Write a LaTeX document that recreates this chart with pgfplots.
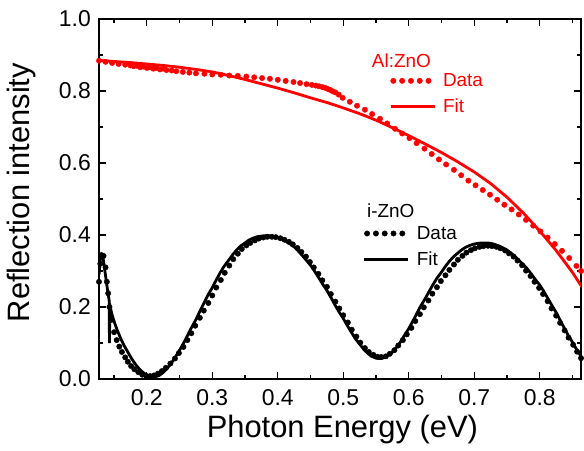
\documentclass[border=0pt]{standalone}
\usepackage{pgfplots}
\pgfplotsset{compat=1.18}
\usepackage{fontspec}
\setmainfont{Liberation Sans}
\definecolor{myred}{RGB}{255,0,0}

\pgfplotstableread{
x y
0.127 0.884
0.137 0.881
0.147 0.878
0.157 0.875
0.167 0.873
0.175 0.871
0.180 0.869
0.185 0.870
0.190 0.866
0.195 0.868
0.200 0.864
0.205 0.866
0.210 0.862
0.215 0.864
0.220 0.860
0.225 0.862
0.230 0.858
0.238 0.857
0.245 0.855
0.255 0.853
0.265 0.851
0.275 0.849
0.288 0.848
0.300 0.846
0.313 0.845
0.326 0.843
0.339 0.842
0.352 0.840
0.364 0.838
0.376 0.836
0.388 0.834
0.400 0.831
0.412 0.828
0.424 0.825
0.434 0.822
0.444 0.819
0.452 0.817
0.458 0.815
0.463 0.813
0.468 0.811
0.472 0.809
0.476 0.806
0.480 0.803
0.484 0.799
0.488 0.796
0.493 0.790
0.499 0.781
0.510 0.770
0.521 0.759
0.533 0.748
0.544 0.736
0.556 0.723
0.567 0.710
0.579 0.695
0.590 0.682
0.601 0.669
0.612 0.655
0.624 0.640
0.635 0.625
0.646 0.610
0.657 0.596
0.669 0.581
0.680 0.566
0.691 0.551
0.702 0.538
0.713 0.525
0.724 0.512
0.735 0.498
0.746 0.484
0.757 0.471
0.768 0.457
0.779 0.442
0.790 0.426
0.801 0.410
0.812 0.393
0.823 0.375
0.834 0.356
0.845 0.336
0.856 0.314
0.863 0.300
}\alznodata

\pgfplotstableread{
x y
0.127 0.885
0.150 0.882
0.175 0.879
0.200 0.875
0.225 0.871
0.250 0.866
0.275 0.860
0.300 0.853
0.325 0.843
0.350 0.832
0.375 0.820
0.400 0.808
0.425 0.795
0.450 0.781
0.475 0.768
0.500 0.753
0.525 0.737
0.550 0.719
0.575 0.698
0.600 0.676
0.625 0.653
0.650 0.629
0.675 0.603
0.700 0.575
0.725 0.543
0.750 0.505
0.775 0.461
0.800 0.411
0.825 0.357
0.850 0.296
0.870 0.240
}\alznofit

\pgfplotstableread{
x y
0.127 0.270
0.129 0.320
0.131 0.344
0.134 0.342
0.137 0.310
0.139 0.270
0.141 0.238
0.143 0.200
0.146 0.164
0.150 0.130
0.154 0.108
0.158 0.090
0.162 0.075
0.167 0.060
0.171 0.048
0.176 0.036
0.181 0.027
0.187 0.019
0.193 0.012
0.199 0.009
0.205 0.008
0.211 0.010
0.217 0.015
0.223 0.022
0.229 0.031
0.236 0.043
0.243 0.057
0.249 0.072
0.256 0.089
0.262 0.108
0.268 0.127
0.274 0.148
0.281 0.170
0.287 0.190
0.294 0.211
0.300 0.232
0.306 0.254
0.313 0.275
0.319 0.295
0.326 0.315
0.332 0.333
0.339 0.348
0.345 0.361
0.352 0.371
0.358 0.378
0.365 0.385
0.371 0.390
0.378 0.393
0.384 0.395
0.391 0.395
0.397 0.394
0.404 0.391
0.410 0.387
0.417 0.381
0.423 0.374
0.430 0.364
0.436 0.353
0.443 0.340
0.449 0.325
0.455 0.310
0.462 0.292
0.468 0.274
0.475 0.256
0.481 0.236
0.488 0.215
0.494 0.196
0.500 0.177
0.507 0.157
0.513 0.137
0.520 0.118
0.526 0.101
0.533 0.086
0.539 0.075
0.546 0.067
0.552 0.062
0.558 0.061
0.565 0.063
0.571 0.070
0.578 0.080
0.584 0.093
0.591 0.108
0.597 0.124
0.604 0.142
0.610 0.161
0.617 0.180
0.623 0.199
0.630 0.218
0.636 0.237
0.643 0.255
0.649 0.272
0.656 0.288
0.662 0.303
0.669 0.318
0.675 0.331
0.682 0.342
0.688 0.351
0.695 0.358
0.701 0.363
0.708 0.367
0.714 0.369
0.721 0.370
0.727 0.369
0.734 0.367
0.740 0.363
0.747 0.357
0.753 0.349
0.760 0.340
0.766 0.329
0.773 0.316
0.779 0.301
0.786 0.286
0.792 0.270
0.799 0.253
0.805 0.236
0.812 0.216
0.818 0.196
0.825 0.176
0.831 0.156
0.838 0.135
0.844 0.115
0.851 0.095
0.857 0.076
0.863 0.058
}\iznodata

\pgfplotstableread{
x y
0.127 0.290
0.129 0.330
0.131 0.345
0.133 0.340
0.136 0.300
0.139 0.260
0.1425 0.218
0.1430 0.100
0.1435 0.205
0.147 0.178
0.151 0.155
0.155 0.135
0.160 0.113
0.165 0.094
0.171 0.075
0.177 0.056
0.183 0.040
0.189 0.027
0.195 0.017
0.201 0.010
0.207 0.006
0.213 0.006
0.219 0.010
0.225 0.018
0.231 0.029
0.237 0.043
0.243 0.059
0.250 0.080
0.256 0.099
0.262 0.120
0.268 0.142
0.275 0.165
0.281 0.188
0.287 0.210
0.293 0.232
0.300 0.254
0.306 0.275
0.312 0.295
0.318 0.313
0.325 0.330
0.331 0.345
0.337 0.358
0.343 0.369
0.350 0.378
0.356 0.386
0.362 0.391
0.368 0.395
0.375 0.397
0.381 0.398
0.387 0.398
0.393 0.396
0.400 0.393
0.406 0.389
0.412 0.383
0.418 0.376
0.425 0.367
0.431 0.356
0.437 0.344
0.443 0.331
0.450 0.316
0.456 0.300
0.462 0.283
0.468 0.265
0.475 0.246
0.481 0.227
0.487 0.207
0.493 0.188
0.500 0.168
0.506 0.149
0.512 0.131
0.518 0.113
0.525 0.097
0.531 0.083
0.537 0.072
0.543 0.063
0.550 0.058
0.556 0.057
0.562 0.059
0.568 0.065
0.575 0.074
0.581 0.087
0.587 0.102
0.593 0.120
0.600 0.140
0.606 0.160
0.612 0.181
0.618 0.202
0.625 0.223
0.631 0.243
0.637 0.262
0.643 0.280
0.650 0.297
0.656 0.313
0.662 0.327
0.668 0.339
0.675 0.350
0.681 0.359
0.687 0.366
0.693 0.371
0.700 0.375
0.706 0.377
0.712 0.378
0.718 0.378
0.725 0.377
0.731 0.374
0.737 0.370
0.743 0.365
0.750 0.358
0.756 0.350
0.762 0.341
0.768 0.330
0.775 0.318
0.781 0.306
0.787 0.292
0.793 0.277
0.800 0.261
0.806 0.244
0.812 0.225
0.818 0.206
0.825 0.185
0.831 0.164
0.837 0.143
0.843 0.123
0.850 0.102
0.856 0.083
0.863 0.063
}\iznofit

\pgfplotsset{
  common/.style={
    at={(0,0)}, anchor=south west,
    scale only axis, width=482bp, height=360bp,
    xmin=0.127, xmax=0.863, ymin=0, ymax=1.0,
  },
  dotimg/.style={legend image code/.code={
      \node[draw=none, fill=none, inner sep=0pt, minimum width=49bp, minimum height=6bp, anchor=west] at (0,0) {};
      \foreach \i in {0,1,2,3,4} {\fill (2.7bp+\i*8.8bp,0) circle (2.7bp);}
    }},
  lineimg/.style={legend image code/.code={
      \node[draw=none, fill=none, inner sep=0pt, minimum width=49bp, minimum height=6bp, anchor=west] at (0,0) {};
      \draw[line width=3.2bp] (0,0) -- (44bp,0);
    }},
}

\begin{document}
\begin{tikzpicture}
\begin{axis}[common,
  axis line style={line width=1.5bp},
  every tick/.style={black, line width=1.2bp},
  major tick length=7bp, minor tick length=4.5bp,
  xtick={0.2,0.3,0.4,0.5,0.6,0.7,0.8},
  minor xtick={0.15,0.25,0.35,0.45,0.55,0.65,0.75,0.85},
  ytick={0,0.2,0.4,0.6,0.8,1.0},
  minor ytick={0.1,0.3,0.5,0.7,0.9},
  tick label style={font=\fontsize{23}{27}\selectfont},
  /pgf/number format/assume math mode=true,
  xticklabel style={anchor=base, yshift=-26bp, /pgf/number format/.cd, fixed, precision=1},
  yticklabel style={anchor=east, inner sep=0pt, xshift=-8bp, /pgf/number format/.cd, fixed, fixed zerofill, precision=1},
  xlabel={Photon Energy (eV)},
  ylabel={Reflection intensity},
  label style={font=\fontsize{31}{36}\selectfont},
  xlabel style={at={(axis description cs:0.505,-0.163)}, anchor=base},
  ylabel style={at={(axis description cs:-0.161,0.518)}, anchor=center},
  legend style={draw=none, fill=none, at={(axis cs:0.565,0.860)}, anchor=north west,
    font=\fontsize{19}{22}\selectfont, text=myred, row sep=7bp,
    legend cell align=left},
]
\addplot[only marks, mark=*, mark size=2.7bp, color=myred, dotimg] table {\alznodata};
\addlegendentry{Data}
\addplot[color=myred, line width=2.8bp, lineimg] table {\alznofit};
\addlegendentry{Fit}
\node[anchor=west, text=myred, font=\fontsize{19}{22}\selectfont, inner sep=0pt] at (axis cs:0.5435,0.883) {Al:ZnO};
\node[anchor=west, text=black, font=\fontsize{19}{22}\selectfont, inner sep=0pt] at (axis cs:0.536,0.467) {i-ZnO};
\end{axis}
\begin{axis}[common, hide axis,
  legend style={draw=none, fill=none, at={(axis cs:0.525,0.436)}, anchor=north west,
    font=\fontsize{19}{22}\selectfont, row sep=7bp, legend cell align=left},
]
\addplot[only marks, mark=*, mark size=2.7bp, color=black, dotimg] table {\iznodata};
\addlegendentry{Data}
\addplot[color=black, line width=2.8bp, lineimg] table {\iznofit};
\addlegendentry{Fit}
\end{axis}
\pgfresetboundingbox
\path[use as bounding box] (-99bp,-72bp) rectangle (485bp,379bp);
\end{tikzpicture}
\end{document}
